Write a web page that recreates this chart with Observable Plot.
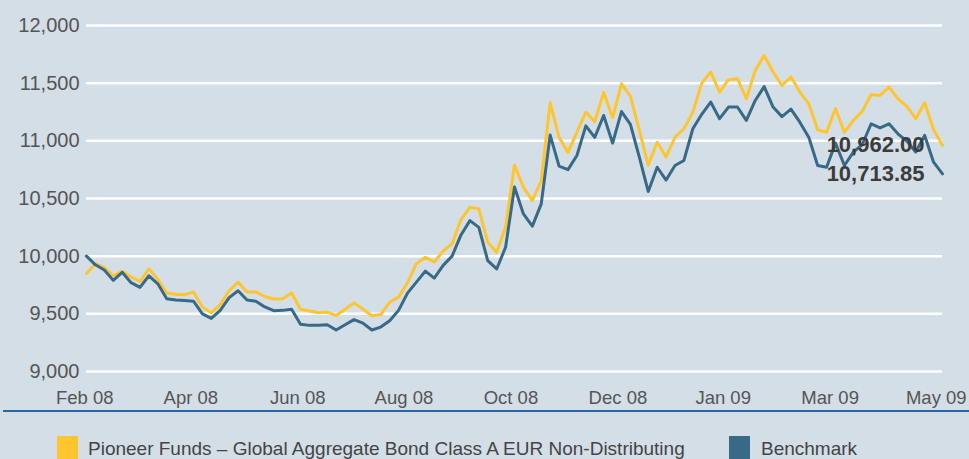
<!DOCTYPE html>
<html>
<head>
<meta charset="utf-8">
<script src="https://cdn.jsdelivr.net/npm/d3@7"></script>
<script src="https://cdn.jsdelivr.net/npm/@observablehq/plot@0.6"></script>
<style>
html, body { margin: 0; padding: 0; background: #d4dee7; }
body { width: 969px; height: 459px; overflow: hidden; font-family: "Liberation Sans", Arial, sans-serif; }
#chart svg { display: block; }
#rule { height: 2px; background: #2a66a0; margin-left: 3px; }
#legend { position: relative; height: 47px; color: #444; font-size: 19px; }
#legend .sw { position: absolute; top: 24px; width: 21px; height: 23px; }
#legend .lb { position: absolute; top: 27px; white-space: nowrap; line-height: 1; }
</style>
</head>
<body>
<div id="chart"></div>
<div id="rule"></div>
<div id="legend"></div>
<script>
// Series values, evenly spaced observations Feb 08 – May 09
const fundName = "Pioneer Funds – Global Aggregate Bond Class A EUR Non-Distributing";
const benchName = "Benchmark";
const fund = [
  9850, 9935, 9900, 9830, 9870, 9820, 9780, 9890, 9800, 9680,
  9670, 9665, 9690, 9560, 9510, 9580, 9700, 9775, 9690, 9690,
  9650, 9629, 9630, 9680, 9540, 9525, 9510, 9515, 9485, 9540,
  9595, 9542, 9484, 9495, 9600, 9645, 9770, 9935, 9990, 9950,
  10045, 10106, 10317, 10424, 10410, 10120, 10033, 10250, 10790, 10598,
  10482, 10656, 11330, 11030, 10900, 11075, 11250, 11165, 11420, 11200,
  11495, 11385, 11090, 10790, 10988, 10860, 11032, 11105, 11249, 11500,
  11597, 11423, 11530, 11539, 11365, 11611, 11740, 11597, 11480, 11555,
  11423, 11322, 11096, 11075, 11280, 11075, 11177, 11255, 11402, 11394,
  11466, 11365, 11299, 11192, 11330, 11096, 10962.00
];
const bench = [
  10000, 9925, 9880, 9790, 9860, 9770, 9730, 9830, 9760, 9630,
  9620, 9615, 9610, 9500, 9460, 9530, 9640, 9700, 9620, 9610,
  9560, 9527, 9530, 9540, 9410, 9400, 9400, 9405, 9360, 9405,
  9450, 9420, 9360, 9385, 9440, 9530, 9680, 9775, 9870, 9810,
  9920, 10000, 10184, 10308, 10250, 9961, 9889, 10077, 10600, 10366,
  10260, 10453, 11050, 10780, 10750, 10873, 11130, 11030, 11220, 10980,
  11254, 11142, 10858, 10560, 10771, 10660, 10786, 10830, 11105, 11230,
  11336, 11192, 11293, 11293, 11177, 11350, 11470, 11293, 11210, 11275,
  11162, 11032, 10786, 10771, 10980, 10786, 10902, 10968, 11148, 11113,
  11148, 11061, 10998, 10903, 11047, 10815, 10713.85
];
// Tick labels and their positions (in observation index units)
const xTickLabels = ["Feb 08", "Apr 08", "Jun 08", "Aug 08", "Oct 08", "Dec 08", "Jan 09", "Mar 09", "May 09"];
const xTickPos = [-0.2, 11.7, 23.7, 35.6, 47.6, 59.6, 71.4, 83.4, 95.3];
const yTicks = [9000, 9500, 10000, 10500, 11000, 11500, 12000];

const colFund = "#fec52e";
const colBench = "#386a87";

const fundData = fund.map((v, i) => ({i, v}));
const benchData = bench.map((v, i) => ({i, v}));
const lastIdx = fund.length - 1;
const endLabels = [
  {i: lastIdx, v: fund[lastIdx]},
  {i: lastIdx, v: bench[lastIdx]}
];
const labelMap = new Map(xTickPos.map((p, k) => [p, xTickLabels[k]]));
const fmt = d3.format(",.2f");

const chart = Plot.plot({
  width: 969,
  height: 410,
  marginLeft: 86,
  marginRight: 27,
  marginTop: 25,
  marginBottom: 39,
  style: {background: "transparent", fontFamily: "'Liberation Sans', Arial, sans-serif", color: "#555", overflow: "visible"},
  x: {domain: [0, lastIdx], label: null},
  y: {domain: [9000, 12000], label: null},
  marks: [
    Plot.gridY(yTicks, {stroke: "#ffffff", strokeOpacity: 1, strokeWidth: 2.5}),
    Plot.axisY(yTicks, {tickSize: 0, tickPadding: 7, fontSize: 20, tickFormat: d3.format(","), fill: "#555", label: null}),
    Plot.axisX(xTickPos, {tickSize: 0, tickPadding: 19, fontSize: 18.5, tickFormat: d => labelMap.get(d), fill: "#555", label: null}),
    Plot.line(fundData, {x: "i", y: "v", stroke: colFund, strokeWidth: 3}),
    Plot.line(benchData, {x: "i", y: "v", stroke: colBench, strokeWidth: 3}),
    Plot.text(endLabels, {x: "i", y: "v", text: d => fmt(d.v), textAnchor: "end", dx: -18, fontSize: 22, fontWeight: "bold", fill: "#3c3c3c"})
  ]
});
document.getElementById("chart").appendChild(chart);

const legend = document.getElementById("legend");
const items = [
  {name: fundName, color: colFund, sx: 57, tx: 88},
  {name: benchName, color: colBench, sx: 729, tx: 761}
];
for (const it of items) {
  const sw = document.createElement("div");
  sw.className = "sw";
  sw.style.left = it.sx + "px";
  sw.style.background = it.color;
  legend.appendChild(sw);
  const lb = document.createElement("div");
  lb.className = "lb";
  lb.style.left = it.tx + "px";
  lb.textContent = it.name;
  legend.appendChild(lb);
}
</script>
</body>
</html>
